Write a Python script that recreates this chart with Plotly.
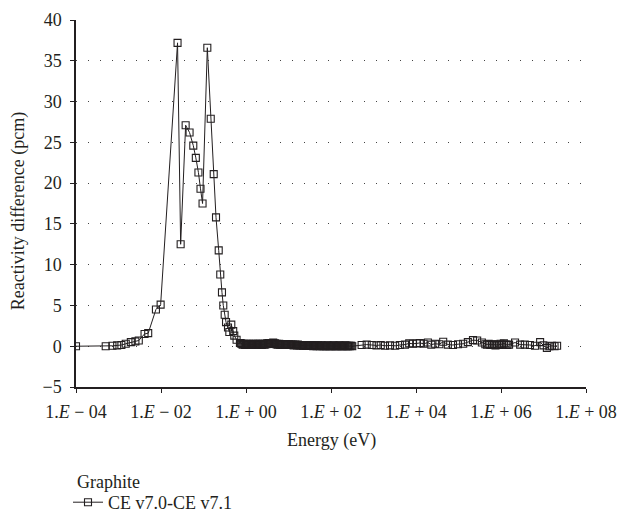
import plotly.graph_objects as go

# ---- data ----
energy_low = [1.0e-4, 5.0e-4, 7.2e-4, 9.3e-4, 1.17e-3, 1.48e-3, 1.95e-3, 2.5e-3, 3.0e-3,
              4.1e-3, 5.0e-3, 7.6e-3, 9.8e-3, 2.45e-2, 2.9e-2, 3.8e-2, 4.7e-2, 5.75e-2,
              6.6e-2, 7.6e-2, 8.5e-2, 9.5e-2, 0.123, 0.148, 0.174, 0.197, 0.228, 0.248,
              0.272, 0.292, 0.315, 0.339, 0.377, 0.405, 0.451, 0.50, 0.53, 0.60, 0.72]
diff_low = [0.0, 0.0, 0.05, 0.1, 0.15, 0.3, 0.5, 0.6, 0.7,
            1.5, 1.6, 4.5, 5.1, 37.2, 12.5, 27.1, 26.2, 24.6,
            23.1, 21.3, 19.3, 17.5, 36.6, 27.9, 21.1, 15.8, 11.75, 8.8,
            6.6, 5.0, 3.85, 2.95, 2.3, 1.75, 2.65, 1.85, 1.3, 0.8, 0.4]

energy_mid = [0.759, 0.794, 0.832, 0.871, 0.912, 0.955, 1.00, 1.05, 1.10, 1.15,
              1.20, 1.26, 1.32, 1.38, 1.45, 1.51, 1.58, 1.66, 1.74, 1.82,
              1.91, 2.00, 2.09, 2.19, 2.29, 2.40, 2.51, 2.63, 2.75, 2.88,
              3.02, 3.16, 3.31, 3.47, 3.63, 3.80, 3.98, 4.17, 4.37, 4.57,
              4.79, 5.01, 5.25, 5.50, 5.75, 6.03, 6.31, 6.61, 6.92, 7.24,
              7.59, 7.94, 8.32, 8.71, 9.12, 9.55, 10.0, 10.5, 11.0, 11.5,
              12.0, 12.6, 13.2, 13.8, 14.5, 15.1, 15.8, 16.6, 17.4, 18.2,
              19.1, 20.0, 20.9, 21.9, 22.9, 24.0, 25.1, 26.3, 27.5, 28.8,
              30.2, 31.6, 33.1, 34.7, 36.3, 38.0, 39.8, 41.7, 43.7, 45.7,
              47.9, 50.1, 52.5, 55.0, 57.5, 60.3, 63.1, 66.1, 69.2, 72.4,
              75.9, 79.4, 83.2, 87.1, 91.2, 95.5, 100, 105, 110, 115,
              120, 126, 132, 138, 145, 151, 158, 166, 174, 182,
              191, 200, 209, 219, 229, 240, 251, 263, 275, 288,
              302, 316]
diff_mid = [0.35, 0.3, 0.2, 0.25, 0.3, 0.15, 0.25, 0.3, 0.2, 0.25,
            0.3, 0.2, 0.25, 0.15, 0.3, 0.25, 0.2, 0.3, 0.2, 0.25,
            0.3, 0.2, 0.25, 0.3, 0.15, 0.2, 0.3, 0.25, 0.2, 0.3,
            0.25, 0.35, 0.3, 0.4, 0.35, 0.3, 0.4, 0.35, 0.45, 0.3,
            0.35, 0.25, 0.3, 0.2, 0.25, 0.3, 0.2, 0.25, 0.15, 0.2,
            0.25, 0.2, 0.15, 0.25, 0.2, 0.15, 0.2, 0.25, 0.15, 0.2,
            0.15, 0.2, 0.1, 0.15, 0.2, 0.15, 0.1, 0.2, 0.15, 0.1,
            0.15, 0.1, 0.15, 0.05, 0.1, 0.15, 0.1, 0.05, 0.1, 0.15,
            0.1, 0.05, 0.1, 0.05, 0.1, 0.0, 0.05, 0.1, 0.05, 0.0,
            0.05, 0.1, 0.05, 0.0, 0.05, 0.1, 0.0, 0.05, 0.0, 0.05,
            0.0, 0.05, 0.1, 0.0, 0.05, 0.0, 0.05, 0.0, 0.05, 0.1,
            0.0, 0.05, 0.0, 0.05, 0.0, 0.05, 0.1, 0.0, 0.05, 0.0,
            0.05, 0.0, 0.05, 0.1, 0.0, 0.05, 0.0, 0.05, 0.0, 0.05,
            0.05, 0.0]

energy_high = [525, 692, 912, 1175, 1480, 1860, 2450, 3240, 4170, 5500,
               6920, 8510, 10500, 12300, 15100, 19050, 22900, 28200, 35500, 43650,
               56200, 74100, 97700, 1.29e5, 1.66e5, 2.19e5, 2.75e5, 3.55e5, 4.27e5, 4.68e5,
               5.13e5, 5.62e5, 6.17e5, 6.76e5, 7.41e5, 8.13e5, 8.91e5, 9.77e5, 1.07e6, 1.17e6,
               1.29e6, 1.41e6, 1.55e6, 2.14e6, 2.82e6, 3.63e6, 4.79e6, 6.31e6, 8.32e6, 1.0e7,
               1.2e7, 1.38e7, 1.58e7, 1.82e7, 2.09e7]
diff_high = [0.15, 0.2, 0.15, 0.1, 0.15, 0.05, 0.1, 0.05, 0.15, 0.2,
             0.35, 0.3, 0.35, 0.4, 0.3, 0.45, 0.2, 0.3, 0.25, 0.55,
             0.2, 0.15, 0.25, 0.3, 0.5, 0.75, 0.7, 0.45, 0.25, 0.2,
             0.3, 0.15, 0.2, 0.25, 0.1, 0.2, 0.15, 0.3, 0.2, 0.35,
             0.2, 0.15, 0.2, 0.45, 0.2, 0.2, 0.15, 0.05, 0.5, 0.1,
             -0.2, 0.0, 0.05, 0.0, 0.05]

tick_vals = [1e-4, 1e-2, 1e0, 1e2, 1e4, 1e6, 1e8]
tick_text = ["1.<i>E</i> \u2212 04", "1.<i>E</i> \u2212 02", "1.<i>E</i> + 00", "1.<i>E</i> + 02",
             "1.<i>E</i> + 04", "1.<i>E</i> + 06", "1.<i>E</i> + 08"]
y_ticks = [-5, 0, 5, 10, 15, 20, 25, 30, 35, 40]
series_name = "CE v7.0-CE v7.1"
legend_title = "Graphite"
x_title = "Energy (eV)"
y_title = "Reactivity difference (pcm)"

energy = energy_low + energy_mid + energy_high
diff = diff_low + diff_mid + diff_high

INK = "#231f20"
FONT = "Liberation Serif"
FS = 18

W, H = 620, 523
ML, MR, MT, MB = 76, 34, 20, 136
PW, PH = W - ML - MR, H - MT - MB

fig = go.Figure()
fig.add_trace(go.Scatter(
    x=energy, y=diff, mode="lines+markers", name=series_name,
    line=dict(color=INK, width=1),
    marker=dict(symbol="square-open", size=7, color=INK, line=dict(width=1.1, color=INK)),
))

fig.update_layout(
    width=W, height=H,
    margin=dict(l=ML, r=MR, t=MT, b=MB, autoexpand=False),
    paper_bgcolor="white", plot_bgcolor="white",
    font=dict(family=FONT, size=FS, color=INK),
    showlegend=True,
    legend=dict(
        xref="container", yref="container",
        x=68 / W, y=1 - 484 / H, xanchor="left", yanchor="top",
        bgcolor="rgba(0,0,0,0)", font=dict(family=FONT, size=FS, color=INK),
        itemwidth=30,
    ),
    annotations=[
        dict(text=y_title, textangle=-90, xref="paper", yref="paper",
             x=(18.5 - ML) / PW, y=0.48, xanchor="center", yanchor="middle",
             showarrow=False, font=dict(family=FONT, size=FS, color=INK)),
        dict(text=x_title, xref="paper", yref="paper",
             x=0.5, y=-(440 - (MT + PH)) / PH, xanchor="center", yanchor="middle",
             showarrow=False, font=dict(family=FONT, size=FS, color=INK)),
        dict(text=legend_title, xref="paper", yref="paper",
             x=(75 - ML) / PW, y=-(482 - (MT + PH)) / PH, xanchor="left", yanchor="middle",
             showarrow=False, font=dict(family=FONT, size=FS, color=INK)),
    ],
)

fig.update_xaxes(
    type="log", range=[-4, 8],
    tickvals=tick_vals, ticktext=tick_text, tickangle=0,
    showgrid=False, zeroline=False, automargin=False,
    showline=True, linecolor=INK, linewidth=1.5,
    ticks="outside", ticklen=4, tickcolor=INK, tickwidth=1, ticklabelstandoff=4,
)
fig.update_yaxes(
    range=[-5, 40], tickvals=y_ticks, automargin=False,
    showgrid=True, gridcolor="#444444", gridwidth=1, griddash="1px,11px",
    zeroline=False,
    showline=True, linecolor=INK, linewidth=1.5,
    ticks="outside", ticklen=4, tickcolor=INK, tickwidth=1, ticklabelstandoff=5,
)

# remove the browser's default 8px body margin so the 620x523 figure fills the window
fig.write_html("out.html", config={"displayModeBar": False},
               post_script="document.body.style.margin='0px';")
